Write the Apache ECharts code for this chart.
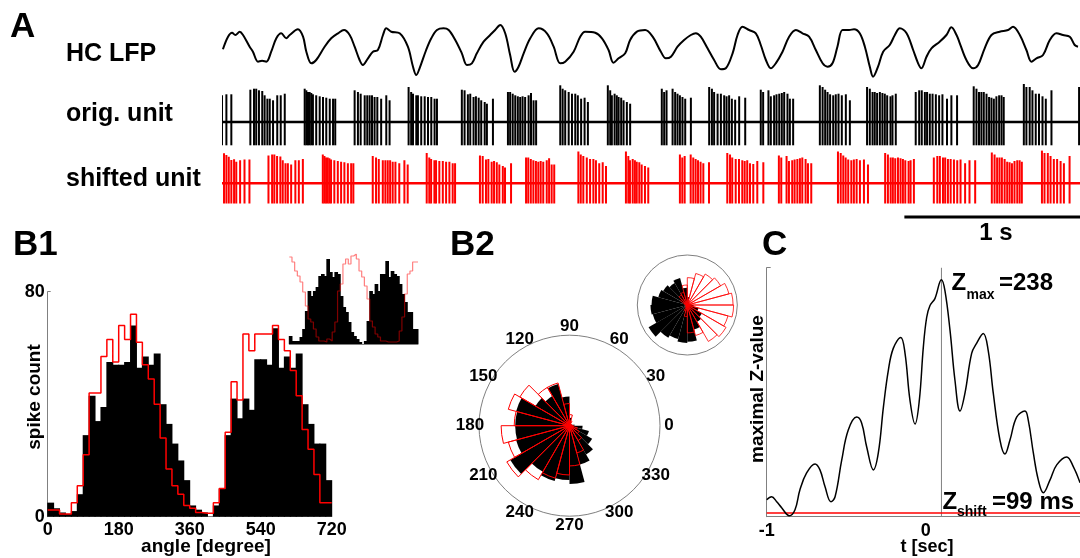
<!DOCTYPE html>
<html>
<head>
<meta charset="utf-8">
<script src="https://cdn.jsdelivr.net/npm/echarts@6/dist/echarts.min.js"></script>
<style>
html, body { margin: 0; padding: 0; background: #fff; }
#main { width: 1080px; height: 558px; }
</style>
</head>
<body>
<div id="main"></div>
<script>
var FONT = '"Liberation Sans", Arial, Helvetica, sans-serif';

// ---------- A: traces (time in s, LFP in uV, spike peak in uV) ----------
var traceEnd = 4.69;
var zShiftSec = 0.099;
var scaleBarStart = 3.73, scaleBarLen = 1;
var spikeTrough = -233;

var lfp = [
[0.005,27],[0.033,153],[0.055,193],[0.073,170],[0.097,203],[0.115,170],[0.151,53],[0.169,3],[0.197,-97],[0.219,-87],
[0.242,-97],[0.269,3],[0.297,137],[0.324,187],[0.351,137],[0.370,170],[0.415,227],[0.443,153],[0.461,3],[0.488,-113],
[0.515,-80],[0.561,53],[0.597,137],[0.634,187],[0.667,220],[0.698,170],[0.725,53],[0.752,-80],[0.770,-130],[0.798,-63],
[0.825,3],[0.852,20],[0.880,170],[0.898,237],[0.925,203],[0.971,187],[1.016,53],[1.044,-147],[1.062,-230],[1.080,-163],
[1.116,20],[1.144,137],[1.175,220],[1.211,237],[1.239,220],[1.275,120],[1.311,-13],[1.339,-130],[1.366,-113],[1.393,-13],
[1.430,103],[1.466,170],[1.493,220],[1.521,270],[1.548,187],[1.575,-30],[1.599,-197],[1.621,-147],[1.649,-13],[1.685,137],
[1.731,237],[1.776,187],[1.813,53],[1.849,-113],[1.876,-97],[1.922,3],[1.958,153],[1.985,203],[2.040,193],[2.077,137],
[2.113,20],[2.140,-107],[2.168,-63],[2.204,-13],[2.231,120],[2.268,203],[2.313,220],[2.354,153],[2.399,3],[2.426,-63],
[2.454,-47],[2.490,53],[2.526,120],[2.563,170],[2.590,187],[2.617,153],[2.654,37],[2.690,-80],[2.727,-173],[2.754,-163],
[2.791,-13],[2.818,170],[2.845,253],[2.881,220],[2.918,187],[2.945,70],[2.973,-80],[3.000,-163],[3.027,-113],[3.064,3],
[3.100,153],[3.137,220],[3.173,187],[3.209,153],[3.246,20],[3.283,-113],[3.310,-147],[3.337,-113],[3.364,53],[3.392,220],
[3.428,220],[3.455,227],[3.486,187],[3.514,53],[3.541,-147],[3.559,-247],[3.586,-147],[3.614,3],[3.650,70],[3.678,170],
[3.705,237],[3.742,187],[3.778,20],[3.805,-113],[3.823,-163],[3.851,-47],[3.878,37],[3.923,103],[3.960,170],[3.987,247],
[4.015,170],[4.033,87],[4.069,-80],[4.106,-163],[4.133,-130],[4.169,37],[4.206,170],[4.251,203],[4.297,220],[4.324,253],
[4.361,170],[4.397,20],[4.425,-97],[4.452,-63],[4.488,-30],[4.525,120],[4.561,187],[4.597,170],[4.634,153],[4.661,70],
[4.679,53]
];

// original unit: [time, peak amplitude]
var origSpikes = [
[-0.103,366],[-0.088,347],[-0.075,328],[-0.062,309],[-0.048,270],[-0.033,280],[-0.021,251],
[0.000,267],[0.024,277],[0.051,277],
[0.155,323],[0.175,333],[0.187,333],[0.202,317],[0.220,310],[0.233,267],[0.248,233],[0.261,233],[0.279,217],[0.302,267],[0.321,267],[0.343,283],
[0.452,333],[0.461,317],[0.470,300],[0.479,300],[0.488,290],[0.497,277],[0.515,267],[0.534,257],[0.552,250],[0.570,243],[0.589,233],[0.607,233],[0.619,233],
[0.725,317],[0.743,300],[0.758,283],[0.780,267],[0.794,267],[0.807,267],[0.820,267],[0.834,250],[0.849,250],[0.870,233],[0.898,267],[0.916,217],
[1.020,350],[1.034,300],[1.044,283],[1.062,267],[1.071,267],[1.089,257],[1.108,257],[1.126,250],[1.144,250],[1.162,233],[1.175,233],
[1.311,323],[1.326,317],[1.344,277],[1.357,283],[1.375,250],[1.388,257],[1.403,243],[1.417,217],[1.436,200],[1.448,183],[1.481,233],
[1.563,300],[1.575,300],[1.589,283],[1.603,267],[1.617,257],[1.630,250],[1.643,257],[1.657,250],[1.676,267],[1.689,290],[1.703,217],[1.717,217],
[1.849,367],[1.862,333],[1.876,317],[1.895,300],[1.913,283],[1.931,283],[1.945,267],[1.963,233],[1.982,243],[2.000,200],
[2.109,367],[2.122,317],[2.131,267],[2.146,283],[2.158,267],[2.168,250],[2.182,243],[2.195,217],[2.213,200],[2.231,183],
[2.404,333],[2.417,300],[2.430,317],[2.463,333],[2.477,300],[2.490,283],[2.503,267],[2.517,250],[2.532,233],[2.563,243],
[2.663,350],[2.678,333],[2.690,300],[2.709,283],[2.727,283],[2.745,267],[2.758,257],[2.772,267],[2.787,233],[2.805,223],[2.827,257],[2.860,243],
[2.945,323],[2.958,300],[2.987,317],[3.000,257],[3.018,267],[3.031,277],[3.046,283],[3.060,290],[3.073,300],[3.091,283],[3.104,233],[3.122,233],
[3.268,367],[3.283,350],[3.297,323],[3.310,300],[3.324,277],[3.341,267],[3.355,277],[3.370,283],[3.388,267],[3.410,277],[3.432,217],
[3.526,350],[3.541,333],[3.556,300],[3.568,300],[3.581,290],[3.596,300],[3.610,290],[3.623,283],[3.636,267],[3.654,257],[3.665,267],[3.683,283],
[3.792,300],[3.811,317],[3.825,317],[3.842,300],[3.854,300],[3.869,283],[3.884,283],[3.902,277],[3.920,267],[3.938,277],[3.963,233],[3.987,267],[4.018,267],
[4.109,357],[4.124,333],[4.138,300],[4.151,300],[4.164,300],[4.179,283],[4.193,250],[4.206,243],[4.219,233],[4.233,257],[4.248,267],[4.261,267],[4.273,250],
[4.383,383],[4.397,350],[4.415,350],[4.430,317],[4.448,283],[4.466,283],[4.485,257],[4.503,233],[4.534,317],
[4.685,350]
];

// ---------- B1 / B2: phase histograms, 15 degree bins over two cycles ----------
var binWidth = 15;
var phaseBlack = [5,3,1.5,1,2,8,29,43,34,39,55,54,54,55,68,53,57,54,58,40,33,26,20,13,
                  4,2.5,1.5,0,4,10,29,42,35,42,38,56,56,54,67,53,57,53,58,40,33,26,26,13];
var phaseRed   = [2.4,2.4,1,1,5,11,22,44,44,57,63,55,68,63,72,62,54,49,40,28,17,11,8,4,
                  3,1.5,1.2,1.2,5,10,30,48,41.5,65,59,65,65,65,68,63,59,52,43,31,24,15,5,5];
var insetBlack = [8,3,3,3,7,15,33,53,48,53,57,68,70,68,85,72,67,72,70,48,37,32,22,12,
                  8,5,2,0,3,23,53,50,60,53,70,70,83,67,73,70,68,60,50,42,32,32,15,15];
var insetRed   = [87,82,73,68,62,52,38,25,22,15,7,3,3,2,5,3,12,22,53,60,80,85,80,88,
                  90,85,73,67,58,45,23,17,10,7,3,3,2,2,2,2,3,13,27,50,70,73,82,82];
var angleTicks = [0,30,60,90,120,150,180,210,240,270,300,330];

// ---------- C: maximal Z-value vs shift ----------
var zCurve = [
[-1.000,17],[-0.969,20],[-0.937,15],[-0.906,9],[-0.858,1],[-0.822,7],[-0.791,27],[-0.749,44],[-0.696,53],[-0.665,47],
[-0.633,30],[-0.596,15],[-0.570,20],[-0.528,57],[-0.487,87],[-0.434,100],[-0.403,94],[-0.371,70],[-0.329,47],[-0.298,64],
[-0.266,110],[-0.235,147],[-0.204,169],[-0.157,180],[-0.130,164],[-0.099,117],[-0.067,93],[-0.040,117],[-0.015,170],[0.006,200],
[0.027,212],[0.058,219],[0.099,238],[0.121,227],[0.153,187],[0.184,137],[0.216,106],[0.247,124],[0.289,164],[0.320,174],
[0.362,184],[0.393,167],[0.425,124],[0.467,77],[0.498,63],[0.530,77],[0.572,100],[0.624,106],[0.645,97],[0.677,64],
[0.708,37],[0.740,24],[0.782,37],[0.824,52],[0.887,60],[0.929,50],[0.971,34]
];
var zMax = 238;
var zShiftMs = 99;
var zThresh = 3.7;

// ---------- build ----------
function inWindow(p) { return p[0] >= 0 && p[0] <= traceEnd; }
var origData = origSpikes.map(function (s) { return [s[0], s[1], spikeTrough]; }).filter(inWindow);
var shiftedData = origSpikes.map(function (s) { return [s[0] + zShiftSec, s[1], spikeTrough]; }).filter(inWindow);

function spikeRenderer(color) {
  return function (params, api) {
    var a = api.coord([api.value(0), api.value(1)]);
    var b = api.coord([api.value(0), api.value(2)]);
    return { type: 'line', shape: { x1: a[0], y1: a[1], x2: b[0], y2: b[1] },
             style: { stroke: color, lineWidth: 2 } };
  };
}
function histBars(vals) {
  return vals.map(function (v, i) { return [i * binWidth, (i + 1) * binWidth, v]; });
}
function histStep(vals) {
  var out = vals.map(function (v, i) { return [i * binWidth, v]; });
  out.push([vals.length * binWidth, vals[vals.length - 1]]);
  return out;
}
function renderHist(params, api) {
  var p0 = api.coord([api.value(0), api.value(2)]);
  var p1 = api.coord([api.value(1), 0]);
  return { type: 'rect', shape: { x: p0[0] - 0.5, y: p0[1], width: p1[0] - p0[0] + 1, height: p1[1] - p0[1] },
           style: { fill: '#000' } };
}
// angle tick labels placed on a ring just outside the rose circle
function renderAngleLabel(params, api) {
  var p = api.coord([api.value(0), api.value(1)]);
  return { type: 'text', x: p[0], y: p[1],
           style: { text: String(api.value(1)), fill: '#000', fontFamily: FONT, fontWeight: 'bold', fontSize: 17,
                    align: 'center', verticalAlign: 'middle' } };
}
var roseCats = phaseBlack.slice(0, 24).map(function (v, i) { return String(i * binWidth); });

var gray = '#808080';
var hidden = { show: false };

function txt(text, x, y, size, opts) {
  opts = opts || {};
  return {
    type: 'text', x: x, y: y, rotation: opts.rot || 0, z: 100,
    style: { text: text, fontFamily: FONT, fontWeight: 'bold', fontSize: size, fill: '#000',
             align: opts.align || 'left', verticalAlign: 'middle' }
  };
}

var chart = echarts.init(document.getElementById('main'), null, { renderer: 'canvas' });

var option = {
  backgroundColor: '#fff',
  animation: false,
  grid: [
    { left: 222, right: 0, top: 20, height: 62, outerBoundsMode: 'none' },
    { left: 222, right: 0, top: 84, height: 66, outerBoundsMode: 'none' },
    { left: 222, right: 0, top: 150.5, height: 57, outerBoundsMode: 'none' },
    { left: 222, right: 0, top: 212, height: 10, outerBoundsMode: 'none' },
    { left: 47.7, width: 284, top: 291.7, height: 225, outerBoundsMode: 'none' },
    { left: 289.3, width: 128.7, top: 254, height: 90, outerBoundsMode: 'none' },
    { left: 766.7, width: 318, top: 267.7, height: 249, outerBoundsMode: 'none' }
  ],
  xAxis: [
    { gridIndex: 0, type: 'value', min: 0, max: traceEnd, show: false },
    { gridIndex: 1, type: 'value', min: 0, max: traceEnd, show: false },
    { gridIndex: 2, type: 'value', min: 0, max: traceEnd, show: false },
    { gridIndex: 3, type: 'value', min: 0, max: traceEnd, show: false },
    { gridIndex: 4, type: 'value', min: 0, max: 720, interval: 180,
      axisLine: { onZero: false, lineStyle: { color: gray, width: 1 } },
      axisTick: { inside: true, length: 3, lineStyle: { color: gray } },
      splitLine: hidden,
      axisLabel: { color: '#000', fontFamily: FONT, fontWeight: 'bold', fontSize: 18, margin: 4 } },
    { gridIndex: 5, type: 'value', min: 0, max: 720,
      axisLine: { onZero: false, lineStyle: { color: gray, width: 1 } },
      axisTick: hidden, axisLabel: hidden, splitLine: hidden },
    { gridIndex: 6, type: 'value', min: -1, max: 1, interval: 1,
      axisLine: { onZero: false, lineStyle: { color: gray, width: 1 } },
      axisTick: hidden, splitLine: hidden,
      axisLabel: { color: '#000', fontFamily: FONT, fontWeight: 'bold', fontSize: 18, margin: 5 } }
  ],
  yAxis: [
    { gridIndex: 0, type: 'value', min: -300, max: 320, show: false },
    { gridIndex: 1, type: 'value', min: -280, max: 380, show: false },
    { gridIndex: 2, type: 'value', min: -280, max: 380, show: false },
    { gridIndex: 3, type: 'value', min: 0, max: 1, show: false },
    { gridIndex: 4, type: 'value', min: 0, max: 80, interval: 80,
      axisLine: { show: true, onZero: false, lineStyle: { color: gray, width: 1 } },
      axisTick: { show: true, inside: true, length: 3, lineStyle: { color: gray } },
      splitLine: hidden,
      axisLabel: { color: '#000', fontFamily: FONT, fontWeight: 'bold', fontSize: 18, margin: 3 } },
    { gridIndex: 5, type: 'value', min: 0, max: 90, show: false },
    { gridIndex: 6, type: 'value', min: 0, max: 250, interval: 250,
      axisLine: { show: true, onZero: false, lineStyle: { color: gray, width: 1 } },
      axisTick: { show: true, inside: true, length: 4, lineStyle: { color: gray } },
      axisLabel: hidden, splitLine: hidden }
  ],
  polar: [
    { center: [569.5, 425.7], radius: 90.5 },
    { center: [569.5, 425.7], radius: 99.5 },
    { center: [687.3, 305], radius: 50 }
  ],
  angleAxis: [
    { polarIndex: 0, type: 'category', data: roseCats, startAngle: 0, clockwise: false,
      axisLine: { lineStyle: { color: gray, width: 1 } },
      axisTick: hidden, axisLabel: hidden, splitLine: hidden, splitArea: hidden },
    { polarIndex: 1, type: 'value', min: 0, max: 360, startAngle: 0, clockwise: false, show: false },
    { polarIndex: 2, type: 'category', data: roseCats, startAngle: 0, clockwise: false,
      axisLine: { lineStyle: { color: gray, width: 1 } },
      axisTick: hidden, axisLabel: hidden, splitLine: hidden, splitArea: hidden }
  ],
  radiusAxis: [
    { polarIndex: 0, type: 'value', min: 0, max: 90, show: false },
    { polarIndex: 1, type: 'value', min: 0, max: 1, show: false },
    { polarIndex: 2, type: 'value', min: 0, max: 95, show: false }
  ],
  series: [
    // A
    { type: 'line', xAxisIndex: 0, yAxisIndex: 0, data: lfp, smooth: 0.35, symbol: 'none',
      lineStyle: { color: '#000', width: 2 } },
    { type: 'line', xAxisIndex: 1, yAxisIndex: 1, data: [[0, 0], [traceEnd, 0]], symbol: 'none',
      lineStyle: { color: '#000', width: 2.5 } },
    { type: 'custom', xAxisIndex: 1, yAxisIndex: 1, data: origData, clip: true,
      renderItem: spikeRenderer('#000'), encode: { x: 0, y: [1, 2] } },
    { type: 'line', xAxisIndex: 2, yAxisIndex: 2, data: [[0, 0], [traceEnd, 0]], symbol: 'none',
      lineStyle: { color: '#ff0000', width: 2.5 } },
    { type: 'custom', xAxisIndex: 2, yAxisIndex: 2, data: shiftedData, clip: true,
      renderItem: spikeRenderer('#ff0000'), encode: { x: 0, y: [1, 2] } },
    { type: 'line', xAxisIndex: 3, yAxisIndex: 3, symbol: 'none',
      data: [[scaleBarStart, 0.5], [scaleBarStart + scaleBarLen, 0.5]],
      lineStyle: { color: '#000', width: 3 } },
    // B1
    { type: 'custom', xAxisIndex: 4, yAxisIndex: 4, data: histBars(phaseBlack),
      renderItem: renderHist, encode: { x: [0, 1], y: 2 } },
    { type: 'line', xAxisIndex: 4, yAxisIndex: 4, data: histStep(phaseRed), step: 'end', symbol: 'none',
      lineStyle: { color: '#ff0000', width: 1.5 } },
    { type: 'custom', xAxisIndex: 5, yAxisIndex: 5, data: histBars(insetBlack),
      renderItem: renderHist, encode: { x: [0, 1], y: 2 } },
    { type: 'line', xAxisIndex: 5, yAxisIndex: 5, data: histStep(insetRed), step: 'end', symbol: 'none',
      lineStyle: { color: 'rgba(255,0,0,0.5)', width: 1.2 } },
    // B2
    { type: 'bar', coordinateSystem: 'polar', polarIndex: 0, data: phaseBlack.slice(0, 24),
      barCategoryGap: '0%', barGap: '-100%', itemStyle: { color: '#000' } },
    { type: 'bar', coordinateSystem: 'polar', polarIndex: 0, data: phaseRed.slice(0, 24),
      barCategoryGap: '0%', barGap: '-100%',
      itemStyle: { color: 'rgba(0,0,0,0)', borderColor: '#ff0000', borderWidth: 1 } },
    { type: 'custom', coordinateSystem: 'polar', polarIndex: 1,
      data: angleTicks.map(function (a) { return [1, a]; }),
      renderItem: renderAngleLabel },
    { type: 'bar', coordinateSystem: 'polar', polarIndex: 2, data: insetBlack.slice(0, 24),
      barCategoryGap: '0%', barGap: '-100%', itemStyle: { color: '#000' } },
    { type: 'bar', coordinateSystem: 'polar', polarIndex: 2, data: insetRed.slice(0, 24),
      barCategoryGap: '0%', barGap: '-100%',
      itemStyle: { color: 'rgba(0,0,0,0)', borderColor: '#ff0000', borderWidth: 0.8 } },
    // C
    { type: 'line', xAxisIndex: 6, yAxisIndex: 6, data: [[zShiftSec, 0], [zShiftSec, 250]], symbol: 'none',
      lineStyle: { color: gray, width: 1 } },
    { type: 'line', xAxisIndex: 6, yAxisIndex: 6, data: [[-1, zThresh], [1, zThresh]], symbol: 'none',
      lineStyle: { color: '#ff0000', width: 1.5 } },
    { type: 'line', xAxisIndex: 6, yAxisIndex: 6, data: zCurve, smooth: 0.4, symbol: 'none',
      lineStyle: { color: '#000', width: 1.5 } }
  ],
  graphic: [
    txt('A', 10, 27, 35),
    txt('HC LFP', 66, 54, 25),
    txt('orig. unit', 66, 114, 25),
    txt('shifted unit', 66, 179, 25),
    txt(scaleBarLen + ' s', 996, 233, 24, { align: 'center' }),
    txt('B1', 13, 245, 35),
    txt('B2', 450, 245, 35),
    txt('C', 762, 245, 35),
    txt('spike count', 34.5, 397, 19, { align: 'center', rot: Math.PI / 2 }),
    txt('angle [degree]', 206, 547, 19, { align: 'center' }),
    txt('maximal Z-value', 758, 389, 19, { align: 'center', rot: Math.PI / 2 }),
    txt('t [sec]', 927, 547, 18, { align: 'center' }),
    txt('Z', 951.5, 283, 24),
    txt('max', 966.5, 295, 14),
    txt('=' + zMax, 999, 283, 24),
    txt('Z', 942.5, 502, 24),
    txt('shift', 957, 512, 14),
    txt('=' + zShiftMs + ' ms', 992, 502, 24)
  ]
};

chart.setOption(option);
</script>
</body>
</html>
